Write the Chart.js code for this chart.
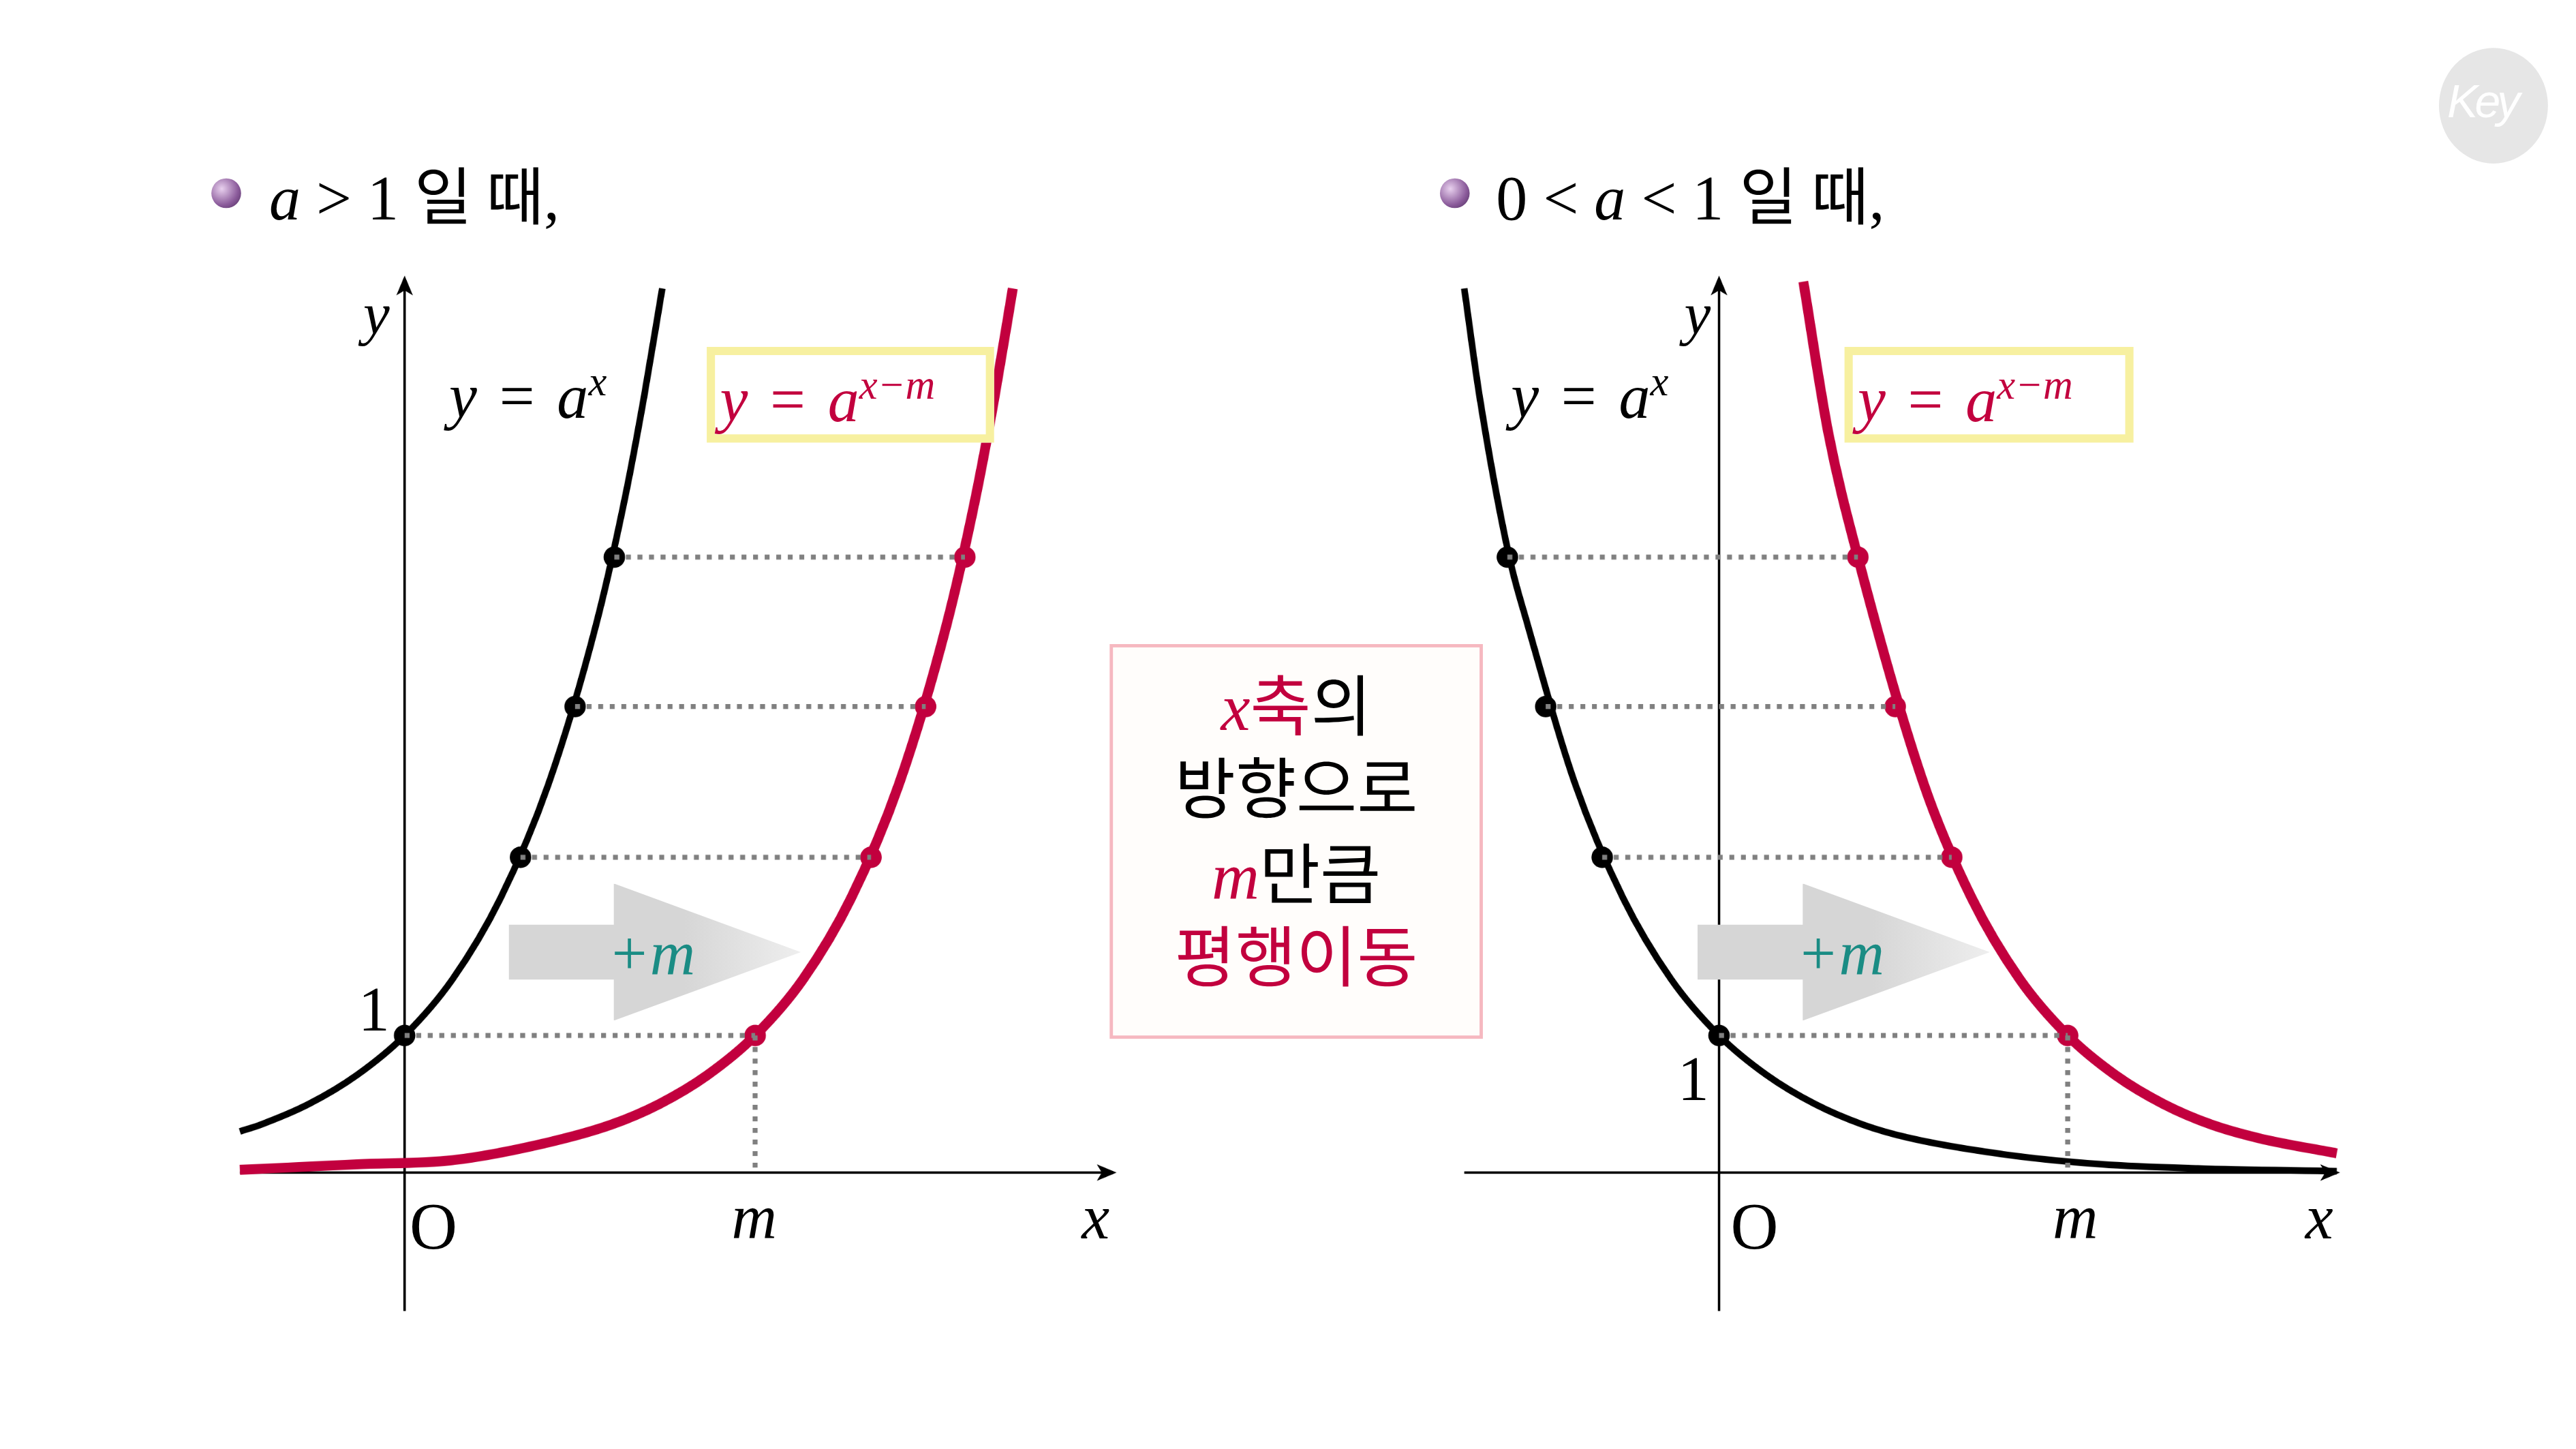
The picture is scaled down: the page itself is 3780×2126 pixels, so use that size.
<!DOCTYPE html>
<html><head><meta charset="utf-8">
<script src="https://cdn.jsdelivr.net/npm/chart.js@4"></script>
<style>
body{margin:0;background:#fff;overflow:hidden}
#stage{position:absolute;left:0;top:0;width:1560px;height:878px;transform:scale(2.4231);transform-origin:0 0;font-family:"Liberation Serif","DejaVu Serif",serif}
.t{position:absolute;white-space:nowrap;line-height:1}
.m{font-style:italic}
.k{font-family:"Noto Sans CJK KR",sans-serif;font-style:normal}
.red{color:#c2003e}
canvas{position:absolute}
.box{position:absolute;border:5px solid #f7f0a0;background:#fff}
.arrow{position:absolute;background:linear-gradient(90deg,#d6d6d6 60%,#eeeeee);clip-path:polygon(0 30%,36% 30%,36% 0,100% 50%,36% 100%,36% 70%,0 70%)}
.ball{position:absolute;width:18px;height:18px;border-radius:50%;background:radial-gradient(circle at 35% 35%,#e8d0ee,#8a5a9a 60%,#4a2a5a)}
</style></head><body>
<div id="stage">
  <div style="position:absolute;left:1477px;top:29px;width:66px;height:70px;border-radius:50%;background:#e6e6e6"></div>
  <div class="t" style="left:1482px;top:46px;font:italic 28px 'Liberation Sans',sans-serif;color:#fff;letter-spacing:-2px">Key</div>

  <div class="ball" style="left:128px;top:108px"></div>
  <div class="t" style="left:163px;top:98px;font-size:38px"><span class="m">a</span> &gt; 1 <span class="k">일 때</span>,</div>
  <div class="ball" style="left:872px;top:108px"></div>
  <div class="t" style="left:906px;top:98px;font-size:38px">0 &lt; <span class="m">a</span> &lt; 1 <span class="k">일 때</span>,</div>

  <canvas id="c1" style="left:135px;top:157px;width:554px;height:650px"></canvas>
  <canvas id="c2" style="left:877px;top:157px;width:554px;height:650px"></canvas>

  <div class="arrow" style="left:308px;top:535px;width:177px;height:83px"></div>
  <div class="t m" style="left:368px;top:558px;font-size:38px;color:#1a8c84">+m</div>
  <div class="arrow" style="left:1028px;top:535px;width:177px;height:83px"></div>
  <div class="t m" style="left:1088px;top:558px;font-size:38px;color:#1a8c84">+m</div>

  <div class="t m" style="left:220px;top:172px;font-size:36px">y</div>
  <div class="t" style="left:272px;top:218px;font-size:38px;word-spacing:4px"><span class="m">y</span> = <span class="m">a<sup style="font-size:25px">x</sup></span></div>
  <div class="box" style="left:428px;top:210px;width:164px;height:48px"></div>
  <div class="t red" style="left:436px;top:220px;font-size:38px;word-spacing:4px"><span class="m">y</span> = <span class="m">a<sup style="font-size:25px">x−m</sup></span></div>
  <div class="t" style="left:217px;top:592px;font-size:38px">1</div>
  <div class="t" style="left:248px;top:723px;font-size:40px">O</div>
  <div class="t m" style="left:443px;top:718px;font-size:38px">m</div>
  <div class="t m" style="left:655px;top:718px;font-size:38px">x</div>

  <div class="t m" style="left:1020px;top:172px;font-size:36px">y</div>
  <div class="t" style="left:915px;top:218px;font-size:38px;word-spacing:4px"><span class="m">y</span> = <span class="m">a<sup style="font-size:25px">x</sup></span></div>
  <div class="box" style="left:1117px;top:210px;width:165px;height:48px"></div>
  <div class="t red" style="left:1125px;top:220px;font-size:38px;word-spacing:4px"><span class="m">y</span> = <span class="m">a<sup style="font-size:25px">x−m</sup></span></div>
  <div class="t" style="left:1016px;top:634px;font-size:38px">1</div>
  <div class="t" style="left:1048px;top:723px;font-size:40px">O</div>
  <div class="t m" style="left:1243px;top:718px;font-size:38px">m</div>
  <div class="t m" style="left:1396px;top:718px;font-size:38px">x</div>

  <div style="position:absolute;left:672px;top:390px;width:222px;height:235px;border:2px solid #f6b8c0;background:#fffdfb"></div>
  <div class="t k" style="left:672px;width:226px;text-align:center;top:405px;font-size:40px"><span class="m red" style="font-family:'Liberation Serif',serif;font-style:italic">x</span><span class="red">축</span>의</div>
  <div class="t k" style="left:672px;width:226px;text-align:center;top:455px;font-size:40px">방향으로</div>
  <div class="t k" style="left:672px;width:226px;text-align:center;top:507px;font-size:40px"><span class="red" style="font-family:'Liberation Serif',serif;font-style:italic">m</span>만큼</div>
  <div class="t k red" style="left:672px;width:226px;text-align:center;top:557px;font-size:40px">평행이동</div>
</div>
<script>
const RED = "#c2003e";
const GRID = "#808080";

// left panel: a > 1 (x unit ~58px, y unit ~83px)
const leftBlackX = [-1.72, -1.5, -1, -0.5, 0, 0.5, 1, 1.5, 2, 2.3, 2.5, 2.69];
const leftBlackY = [0.30, 0.35, 0.50, 0.71, 1.00, 1.41, 2.00, 2.83, 4.00, 4.92, 5.66, 6.45];
const leftRedX = [-1.72, -0.5, 0.5, 1.5, 2.16, 2.66, 3.16, 3.66, 4.16, 4.66, 5.16, 5.66, 5.96, 6.16, 6.35];
const leftRedY = [0.02, 0.06, 0.09, 0.22, 0.35, 0.50, 0.71, 1.00, 1.41, 2.00, 2.83, 4.00, 4.92, 5.66, 6.45];
const leftDotsBlack = [[0, 1.00], [1.21, 2.30], [1.78, 3.40], [2.19, 4.49]];
const leftDotsRed = [[3.66, 1.00], [4.87, 2.30], [5.44, 3.40], [5.85, 4.49]];

// right panel: 0 < a < 1
const rightBlackX = [-2.66, -2.5, -2.19, -2, -1.5, -1, -0.5, 0, 0.5, 1, 1.5, 2, 3, 4, 5, 6.45];
const rightBlackY = [6.45, 5.66, 4.49, 4.00, 2.83, 2.00, 1.41, 1.00, 0.71, 0.50, 0.35, 0.25, 0.13, 0.06, 0.03, 0.01];
const rightRedX = [0.88, 1.14, 1.45, 2.14, 2.64, 3.14, 3.64, 4.14, 4.64, 5.14, 5.64, 6.45];
const rightRedY = [6.50, 5.40, 4.49, 2.83, 2.00, 1.41, 1.00, 0.71, 0.50, 0.35, 0.25, 0.14];
const rightDotsBlack = [[0, 1.00], [-1.22, 2.30], [-1.81, 3.40], [-2.21, 4.49]];
const rightDotsRed = [[3.64, 1.00], [2.43, 2.30], [1.84, 3.40], [1.45, 4.49]];

const zip = (xs, ys) => xs.map((x, i) => ({ x, y: ys[i] }));
const pts = (arr) => arr.map(([x, y]) => ({ x, y }));

const axesPlugin = (xFrom, xTo, yFrom, yTo) => ({
  id: "axes",
  beforeDatasetsDraw(chart) {
    const { ctx, scales: { x, y } } = chart;
    const ox = x.getPixelForValue(0), oy = y.getPixelForValue(0);
    const x1 = x.getPixelForValue(xFrom), x2 = x.getPixelForValue(xTo);
    const y1 = y.getPixelForValue(yFrom), y2 = y.getPixelForValue(yTo);
    ctx.save();
    ctx.strokeStyle = "#000";
    ctx.fillStyle = "#000";
    ctx.lineWidth = 1.5;
    ctx.beginPath();
    ctx.moveTo(x1, oy); ctx.lineTo(x2, oy);
    ctx.moveTo(ox, y1); ctx.lineTo(ox, y2);
    ctx.stroke();
    ctx.beginPath();
    ctx.moveTo(x2 + 2, oy); ctx.lineTo(x2 - 10, oy - 5); ctx.lineTo(x2 - 7, oy); ctx.lineTo(x2 - 10, oy + 5);
    ctx.closePath(); ctx.fill();
    ctx.beginPath();
    ctx.moveTo(ox, y2 - 2); ctx.lineTo(ox - 5, y2 + 10); ctx.lineTo(ox, y2 + 7); ctx.lineTo(ox + 5, y2 + 10);
    ctx.closePath(); ctx.fill();
    ctx.restore();
  },
});

const dotted = (a, b) => ({
  data: [{ x: a[0], y: a[1] }, { x: b[0], y: b[1] }],
  borderColor: GRID, borderWidth: 3, borderDash: [3, 4], pointRadius: 0,
});

function makeChart(id, xmin, xmax, axisX, blackX, blackY, redX, redY, dotsB, dotsR) {
  const guides = dotsB.map((d, i) => dotted(d, dotsR[i]));
  guides.push(dotted(dotsR[0], [dotsR[0][0], 0]));
  return new Chart(document.getElementById(id), {
    type: "line",
    data: {
      datasets: [
        ...guides,
        { data: zip(blackX, blackY), borderColor: "#000", borderWidth: 4, pointRadius: 0, cubicInterpolationMode: "monotone" },
        { data: zip(redX, redY), borderColor: RED, borderWidth: 6, pointRadius: 0, cubicInterpolationMode: "monotone" },
        { data: pts(dotsB), showLine: false, pointRadius: 6, pointBackgroundColor: "#000", pointBorderColor: "#000", pointBorderWidth: 1 },
        { data: pts(dotsR), showLine: false, pointRadius: 6, pointBackgroundColor: RED, pointBorderColor: RED, pointBorderWidth: 1 },
      ],
    },
    options: {
      responsive: false, animation: false, devicePixelRatio: 3,
      layout: { padding: 0, autoPadding: false },
      plugins: { legend: { display: false }, tooltip: { enabled: false } },
      scales: {
        x: { type: "linear", min: xmin, max: xmax, display: false },
        y: { type: "linear", min: -1.169, max: 6.663, display: false },
      },
    },
    plugins: [axesPlugin(axisX[0], axisX[1], -1.01, 6.52)],
  });
}

document.getElementById("c1").width = 554; document.getElementById("c1").height = 650;
document.getElementById("c2").width = 554; document.getElementById("c2").height = 650;
makeChart("c1", -1.897, 7.655, [-1.72, 7.40], leftBlackX, leftBlackY, leftRedX, leftRedY, leftDotsBlack, leftDotsRed);
makeChart("c2", -2.828, 6.724, [-2.66, 6.45], rightBlackX, rightBlackY, rightRedX, rightRedY, rightDotsBlack, rightDotsRed);
</script>
</body></html>
